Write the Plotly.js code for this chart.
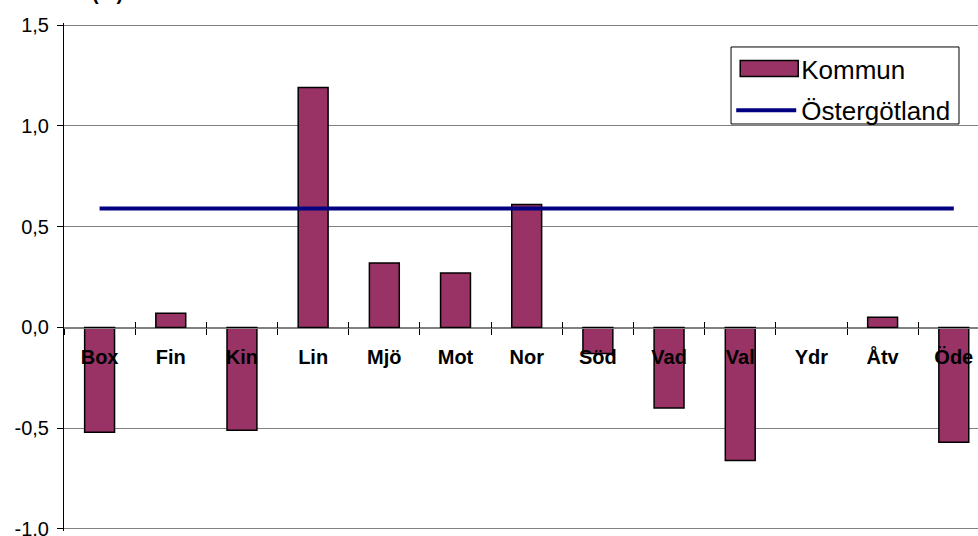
<!DOCTYPE html>
<html>
<head>
<meta charset="utf-8">
<script src="https://cdn.plot.ly/plotly-3.0.1.min.js"></script>
<style>html,body{margin:0;padding:0;background:#fff;overflow:hidden}</style>
</head>
<body>
<div id="chart" style="width:978px;height:536px"></div>
<script>
const categories = ["Box","Fin","Kin","Lin","Mjö","Mot","Nor","Söd","Vad","Val","Ydr","Åtv","Öde"];
const kommunValues = [-0.52, 0.07, -0.51, 1.19, 0.32, 0.27, 0.61, -0.13, -0.40, -0.66, 0.0, 0.05, -0.57];
const ostergotlandValues = [0.59, 0.59, 0.59, 0.59, 0.59, 0.59, 0.59, 0.59, 0.59, 0.59, 0.59, 0.59, 0.59];
const yTickValues = [-1.0, -0.5, 0.0, 0.5, 1.0, 1.5];
const yTickLabels = ["-1,0", "-0,5", "0,0", "0,5", "1,0", "1,5"];
const chartTitle = "(%)";
const seriesNames = ["Kommun", "Östergötland"];

const FONT = "Liberation Sans, Arial, sans-serif";

const traces = [
  {
    type: "bar",
    name: seriesNames[0],
    legendgroup: "g1",
    x: categories,
    y: kommunValues,
    marker: {
      color: "#993366",
      line: {color: "#000000", width: kommunValues.map(v => v === 0 ? 0 : 1.5)}
    },
    hoverinfo: "x+y"
  },
  {
    type: "scatter",
    mode: "lines",
    name: seriesNames[1],
    legendgroup: "g2",
    x: categories,
    y: ostergotlandValues,
    line: {color: "#000080", width: 4},
    hoverinfo: "x+y"
  },
  {
    type: "scatter",
    mode: "none",
    x: categories,
    y: ostergotlandValues,
    xaxis: "x2",
    showlegend: false,
    hoverinfo: "skip"
  }
];

const xRange = [-0.5, 12.34];

const layout = {
  width: 978,
  height: 536,
  margin: {l: 64, r: 0, t: 23, b: 5, pad: 0},
  paper_bgcolor: "#ffffff",
  plot_bgcolor: "#ffffff",
  font: {family: FONT, color: "#000000", size: 20},
  bargap: 0.58,
  showlegend: true,
  legend: {
    x: 0.73, y: 0.9567, xanchor: "left", yanchor: "top",
    bgcolor: "rgba(0,0,0,0)", borderwidth: 0,
    font: {family: FONT, size: 26, color: "#000000"},
    itemwidth: 60,
    tracegroupgap: 5
  },
  shapes: [
    {
      type: "rect", xref: "paper", yref: "paper",
      x0: 0.7298, x1: 0.9792, y0: 0.8012, y1: 0.9528,
      line: {color: "#000000", width: 1},
      fillcolor: "#ffffff",
      layer: "between"
    }
  ],
  xaxis: {
    type: "category",
    range: xRange,
    anchor: "free",
    position: 0.4,
    showgrid: false,
    zeroline: false,
    showline: true,
    linecolor: "#808080",
    linewidth: 1,
    ticks: "outside",
    ticklen: 6,
    tickwidth: 1,
    tickcolor: "#000000",
    tickson: "boundaries",
    ticklabelstandoff: 11,
    tickfont: {family: FONT, size: 20, color: "#000000", weight: "bold"},
    fixedrange: true
  },
  xaxis2: {
    type: "category",
    range: xRange,
    overlaying: "x",
    anchor: "free",
    position: 0.4,
    side: "bottom",
    showgrid: false,
    zeroline: false,
    showline: false,
    ticks: "inside",
    ticklen: 6,
    tickwidth: 1,
    tickcolor: "#000000",
    tickson: "boundaries",
    showticklabels: false,
    fixedrange: true
  },
  yaxis: {
    range: [-1.01, 1.51],
    tickvals: yTickValues,
    ticktext: yTickLabels,
    showgrid: true,
    gridcolor: "#808080",
    gridwidth: 1,
    zeroline: false,
    showline: true,
    linecolor: "#000000",
    linewidth: 1,
    ticks: "outside",
    ticklen: 6,
    tickcolor: "#000000",
    ticklabelstandoff: 4,
    ticklabeloverflow: "allow",
    tickfont: {family: FONT, size: 20, color: "#000000"},
    fixedrange: true
  },
  annotations: [
    {
      text: "<b>" + chartTitle + "</b>",
      xref: "paper", yref: "paper",
      x: 0.048, y: 1.06,
      xanchor: "center", yanchor: "middle",
      showarrow: false,
      font: {family: FONT, size: 20, color: "#000000"}
    }
  ]
};

function widenBarSwatch(gd) {
  const groups = gd.querySelectorAll(".legend .traces");
  groups.forEach(function (g) {
    const txt = g.querySelector("text.legendtext");
    if (txt && txt.textContent === seriesNames[0]) {
      g.querySelectorAll(".legendpoints path").forEach(function (p) {
        p.setAttribute("d", "M-26,8H32V-8H-26Z");
      });
    }
  });
}

Plotly.newPlot("chart", traces, layout, {displayModeBar: false, staticPlot: true}).then(function (gd) {
  widenBarSwatch(gd);
  gd.on("plotly_afterplot", function () { widenBarSwatch(gd); });
  setTimeout(function () { widenBarSwatch(gd); }, 50);
});
</script>
</body>
</html>
